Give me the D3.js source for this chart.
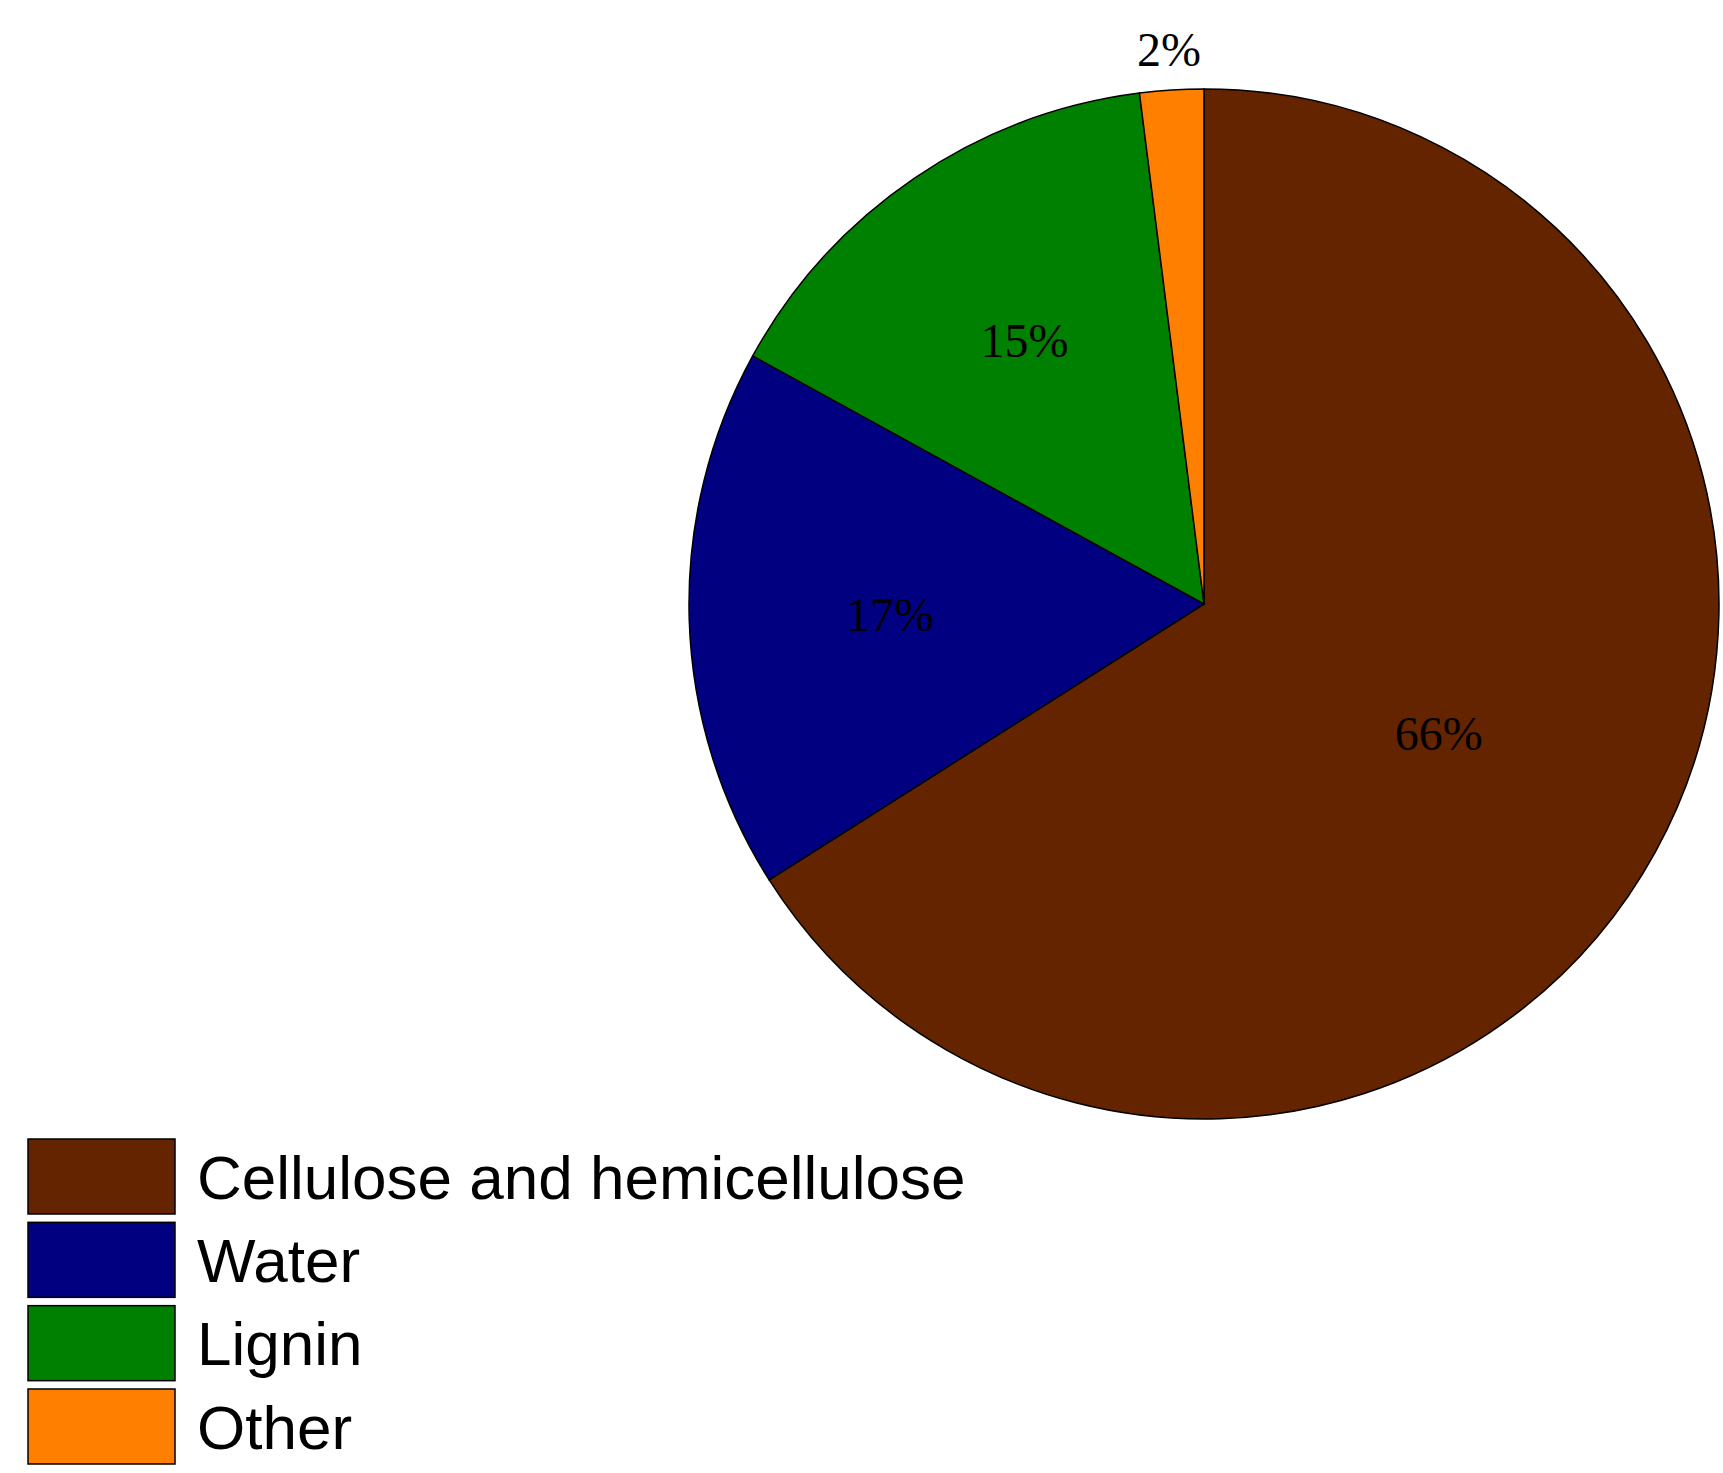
<!DOCTYPE html>
<html><head><meta charset="utf-8">
<script src="https://cdn.jsdelivr.net/npm/d3@7"></script>
<style>body{margin:0;background:#fff}</style></head>
<body><svg id="c" width="1723" height="1473"></svg>
<script>
const categories = ["Cellulose and hemicellulose", "Water", "Lignin", "Other"];
const values = [66, 17, 15, 2];
const labels = ["66%", "17%", "15%", "2%"];
const colors = ["#642400", "#000080", "#008000", "#ff8000"];
const labelRadiusFactor = [0.52, 0.61, 0.62, 1.08];

const svg = d3.select("#c");
const cx = 1204, cy = 604, r = 515;
const g = svg.append("g").attr("transform", `translate(${cx},${cy})`);
const pie = d3.pie().sort(null).value(d => d)(values);
const arc = d3.arc().innerRadius(0).outerRadius(r);
g.selectAll("path").data(pie).join("path")
  .attr("d", arc).attr("fill", (d, i) => colors[i])
  .attr("stroke", "#000").attr("stroke-width", 1.5);
g.selectAll("text").data(pie).join("text")
  .attr("transform", (d, i) => {
    const a = (d.startAngle + d.endAngle) / 2, rr = r * labelRadiusFactor[i];
    return `translate(${Math.sin(a) * rr},${-Math.cos(a) * rr})`;
  })
  .attr("text-anchor", "middle").attr("dy", "0.35em")
  .attr("font-family", "Liberation Serif").attr("font-size", 48)
  .attr("fill", "#000").text((d, i) => labels[i]);

const y = d3.scaleBand().domain(categories).range([1139, 1464]).paddingInner(0.1);
const lg = svg.append("g");
lg.selectAll("rect").data(categories).join("rect")
  .attr("x", 28).attr("y", d => y(d)).attr("width", 147).attr("height", y.bandwidth())
  .attr("fill", (d, i) => colors[i]).attr("stroke", "#000").attr("stroke-width", 1.5);
lg.selectAll("text").data(categories).join("text")
  .attr("x", 197).attr("y", d => y(d) + y.bandwidth() / 2).attr("dy", "0.36em")
  .attr("font-family", "Liberation Sans").attr("font-size", 62)
  .attr("fill", "#000").text(d => d);
</script></body></html>
